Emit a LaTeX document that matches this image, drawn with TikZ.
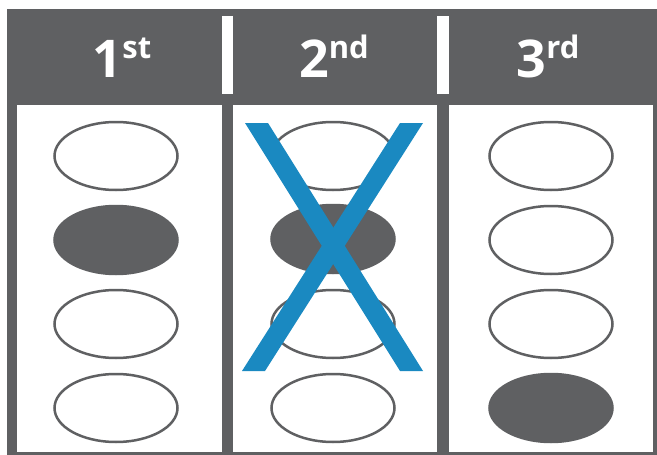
\documentclass[tikz,border=0pt]{standalone}
\usepackage{fontspec}
\setmainfont{Open Sans}
\usetikzlibrary{shapes.geometric}
\definecolor{framegray}{HTML}{5F6062}
\definecolor{xblue}{HTML}{1A89C1}
\begin{document}
\begin{tikzpicture}[x=1pt,y=-1pt,
  bubble/.style={ellipse,draw=framegray,line width=2.5pt,fill=white,minimum width=123pt,minimum height=68pt,inner sep=0pt},
  filledbubble/.style={bubble,fill=framegray},
  head/.style={text=white,inner sep=0pt,anchor=base},
  panel/.style={fill=white},
  cross/.style={fill=xblue}]
\useasboundingbox (0,0) rectangle (657,455);
\fill[white] (0,0) rectangle (657,455);
\fill[framegray] (7,9) rectangle (657,455);
\fill[white] (222,16) rectangle (233,94);
\fill[white] (437,16) rectangle (449,94);
\fill[panel] (17,105) rectangle (222,452);
\fill[panel] (233,105) rectangle (437,452);
\fill[panel] (449,105) rectangle (653,452);
\newcommand{\ordnum}[2]{{\fontsize{52}{52}\selectfont\bfseries #1}{\fontsize{31}{31}\selectfont\bfseries\raisebox{19pt}{#2}}}
\node[head] (h1) at (122,77) {\ordnum{1}{st}};
\node[head] (h2) at (334,77) {\ordnum{2}{nd}};
\node[head] (h3) at (548,77) {\ordnum{3}{rd}};
% column 1
\node[bubble] (a1) at (116,156) {};
\node[filledbubble] (a2) at (116,240) {};
\node[bubble] (a3) at (116,324) {};
\node[bubble] (a4) at (116,408) {};
% column 2
\node[bubble] (b1) at (333,156) {};
\node[filledbubble] (b2) at (333,239) {};
\node[bubble] (b3) at (333,324) {};
\node[bubble] (b4) at (333,408) {};
% column 3
\node[bubble] (c1) at (551,156) {};
\node[bubble] (c2) at (551,240) {};
\node[bubble] (c3) at (551,324) {};
\node[filledbubble] (c4) at (551,408) {};
% blue cross
\fill[cross] (245,123) -- (268,123) -- (423,371) -- (400,371) -- cycle;
\fill[cross] (400,123) -- (423,123) -- (265,371) -- (242,371) -- cycle;
\end{tikzpicture}
\end{document}
